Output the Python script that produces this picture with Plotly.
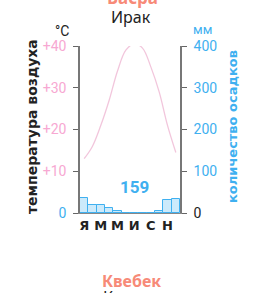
import plotly.graph_objects as go

months = list(range(1, 13))
month_ticks = [1, 3, 5, 7, 9, 11]
month_labels = ["<b>Я</b>", "<b>М</b>", "<b>М</b>", "<b>И</b>", "<b>С</b>", "<b>Н</b>"]
temperature = [13, 16, 21, 27, 34, 39, 40.5, 39.5, 35, 29, 21, 14.5]
precipitation = [35, 18, 20, 12, 4, 0, 0, 0, 1, 5, 30, 34]
total_precip = "159"
temp_tickvals = [0, 10, 20, 30, 40]
temp_ticktext = ["<span style='color:#3fb0f0'>0</span>", "+10", "+20", "+30", "+40"]
prec_tickvals = [0, 100, 200, 300, 400]
prec_ticktext = ["<span style='color:#222'>0</span>", "100", "200", "300", "400"]

PINK = "#f7a8d2"
LINE_PINK = "#f2c6dc"
BLUE = "#3fb0f0"
SALMON = "#f78a78"
W, H = 270, 293

fig = go.Figure()
fig.add_trace(go.Bar(x=months, y=precipitation, yaxis="y2", width=1,
                     marker=dict(color="rgba(170,220,248,0.6)", line=dict(color=BLUE, width=1)),
                     showlegend=False))
fig.add_trace(go.Scatter(x=months, y=temperature, mode="lines", line=dict(color=LINE_PINK, width=1.3, shape="spline"),
                         showlegend=False))

fig.update_layout(
    width=W, height=H, margin=dict(l=0, r=0, t=0, b=0),
    paper_bgcolor="white", plot_bgcolor="white",
    font=dict(family="Roboto, Liberation Sans, sans-serif"),
    xaxis=dict(domain=[80 / W, 180 / W], range=[0.5, 12.5], tickvals=month_ticks, ticktext=month_labels,
               showgrid=False, zeroline=False, showline=True, linecolor="#888", linewidth=1,
               ticks="", tickfont=dict(size=13, color="#222", family="DejaVu Sans"), ticklabelstandoff=0,
               automargin=False),
    yaxis=dict(domain=[(H - 213) / H, (H - 46) / H], range=[0, 40], tickvals=temp_tickvals, ticktext=temp_ticktext,
               showgrid=False, zeroline=False, showline=True, linecolor="#777", linewidth=1.5,
               ticks="outside", ticklen=5, tickcolor="#666", tickfont=dict(size=14, color=PINK),
               ticklabelstandoff=4, automargin=False),
    yaxis2=dict(overlaying="y", side="right", range=[0, 400], tickvals=prec_tickvals, ticktext=prec_ticktext,
                showgrid=False, zeroline=False, showline=True, linecolor="#777", linewidth=1.5,
                ticks="outside", ticklen=5, tickcolor="#666", tickfont=dict(size=14, color=BLUE),
                ticklabelstandoff=4, automargin=False),
    bargap=0,
)

ann = [
    dict(text="<b>Басра</b>", x=132 / W, y=(H + 3) / H, font=dict(size=17, color=SALMON, family="Noto Sans")),
    dict(text="Ирак", x=131 / W, y=(H - 17) / H, font=dict(size=16, color="#222", family="Noto Sans")),
    dict(text="°С", x=62 / W, y=(H - 31) / H, font=dict(size=14, color="#222")),
    dict(text="мм", x=202 / W, y=(H - 30) / H, font=dict(size=13, color=BLUE)),
    dict(text="<b>температура воздуха</b>", x=32 / W, y=(H - 127) / H, textangle=-90,
         font=dict(size=14, color="#222", family="DejaVu Sans")),
    dict(text="<b>количество осадков</b>", x=232 / W, y=(H - 127) / H, textangle=-90,
         font=dict(size=13, color=BLUE, family="DejaVu Sans")),
    dict(text="<b>" + total_precip + "</b>", x=134 / W, y=(H - 187) / H, font=dict(size=17, color=BLUE)),
    dict(text="<b>Квебек</b>", x=131 / W, y=(H - 281) / H, font=dict(size=16, color=SALMON, family="Noto Sans")),
    dict(text="Канада", x=131 / W, y=(H - 297) / H, font=dict(size=16, color="#222", family="Noto Sans")),
]
for a in ann:
    a.update(xref="paper", yref="paper", showarrow=False, xanchor="center", yanchor="middle")
fig.update_layout(annotations=ann)

fig.write_html("out.html", config={"displayModeBar": False},
               post_script="document.body.style.margin='0';document.body.style.overflow='hidden';")
